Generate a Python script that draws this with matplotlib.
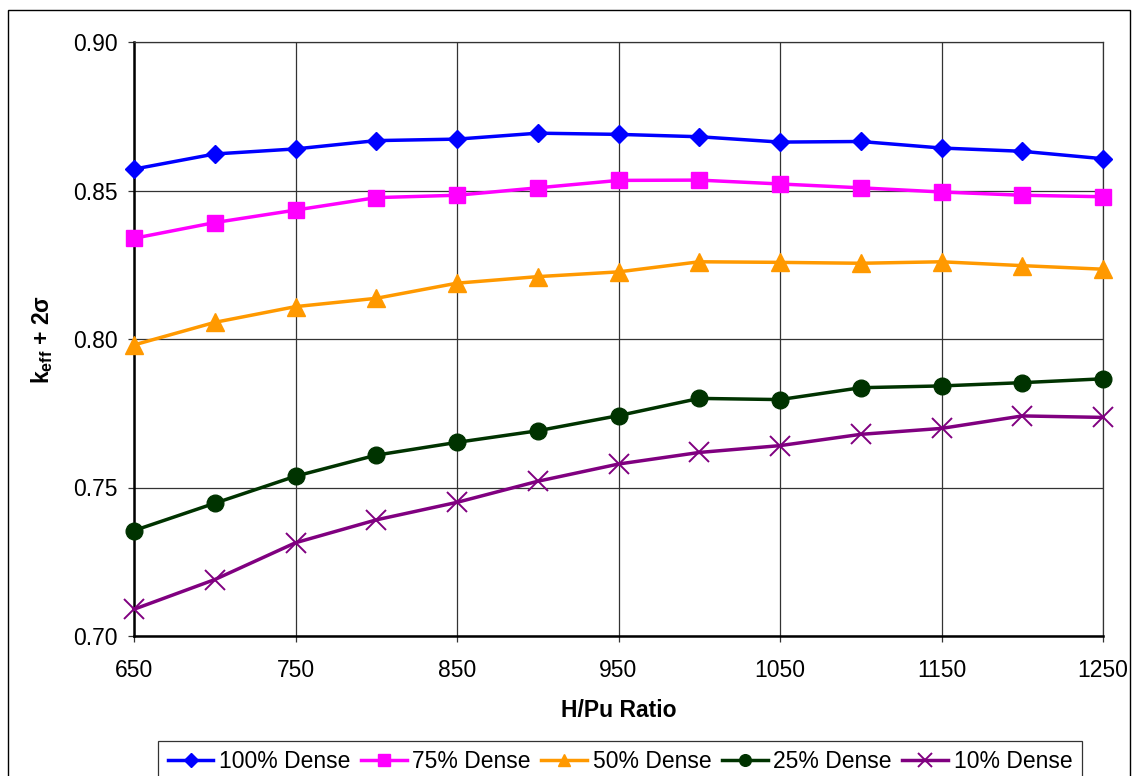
import matplotlib.pyplot as plt
import matplotlib.patches as patches

plt.rcParams['font.family'] = ['Liberation Sans', 'DejaVu Sans']
plt.rcParams['mathtext.default'] = 'regular'

# data
ratio = [650, 700, 750, 800, 850, 900, 950, 1000, 1050, 1100, 1150, 1200, 1250]
dense_100 = [0.8572, 0.8623, 0.8640, 0.8668, 0.8673, 0.8693, 0.8689, 0.8681, 0.8663, 0.8665, 0.8643, 0.8632, 0.8607]
dense_75 = [0.8339, 0.8392, 0.8434, 0.8476, 0.8484, 0.8509, 0.8534, 0.8535, 0.8522, 0.8509, 0.8495, 0.8484, 0.8479]
dense_50 = [0.7980, 0.8056, 0.8109, 0.8137, 0.8188, 0.8210, 0.8226, 0.8260, 0.8258, 0.8255, 0.8260, 0.8247, 0.8235]
dense_25 = [0.7355, 0.7447, 0.7538, 0.7609, 0.7652, 0.7691, 0.7742, 0.7800, 0.7796, 0.7836, 0.7842, 0.7853, 0.7866]
dense_10 = [0.7090, 0.7190, 0.7314, 0.7391, 0.7450, 0.7521, 0.7579, 0.7618, 0.7641, 0.7679, 0.7699, 0.7741, 0.7736]

series = [
    ('100% Dense', dense_100, '#0000FF', 'D', 9.5),
    ('75% Dense', dense_75, '#FF00FF', 's', 11.5),
    ('50% Dense', dense_50, '#FF9900', '^', 12.5),
    ('25% Dense', dense_25, '#003300', 'o', 12),
    ('10% Dense', dense_10, '#800080', 'x', 14),
]

fs = 16.5

fig = plt.figure(figsize=(11.33, 7.76), dpi=100)
ax = fig.add_axes([134/1133, 1 - 636/776, (1103 - 134)/1133, (636 - 42)/776])

for label, vals, c, m, ms in series:
    ax.plot(ratio, vals, color=c, lw=2.5, marker=m, ms=ms, mec=c, mfc=c,
            mew=1.4 if m == 'x' else 1, label=label, clip_on=False, zorder=3)

ax.set_xlim(650, 1250)
ax.set_ylim(0.70, 0.90)
ax.set_xticks(range(650, 1251, 100))
ax.set_yticks([0.70, 0.75, 0.80, 0.85, 0.90])
ax.set_yticklabels(['%.2f' % v for v in [0.70, 0.75, 0.80, 0.85, 0.90]])
ax.grid(True, color='#333333', lw=0.9)
ax.set_axisbelow(True)
ax.tick_params(labelsize=fs, length=4.5, width=0.9, color='#333333', direction='out')
ax.tick_params(axis='x', pad=12)
ax.tick_params(axis='y', pad=7)

for side in ['left', 'bottom']:
    ax.spines[side].set_linewidth(1.8)
    ax.spines[side].set_color('black')
for side in ['top', 'right']:
    ax.spines[side].set_linewidth(0.9)
    ax.spines[side].set_color('#333333')

ax.set_xlabel('H/Pu Ratio', fontsize=fs, fontweight='bold', labelpad=12)
ax.set_ylabel(r'k$_{eff}$ + 2σ', fontsize=fs, fontweight='bold', labelpad=13)

leg = fig.legend(loc='upper center', bbox_to_anchor=(620/1133, 1 - 741/776), ncol=5,
                 fontsize=fs, frameon=True, fancybox=False, edgecolor='black',
                 handlelength=2.0, handletextpad=0.25, columnspacing=0.45,
                 borderpad=0.4, markerscale=0.7, borderaxespad=0)
leg.get_frame().set_linewidth(0.9)

# outer chart border
fig.patches.append(patches.Rectangle((8/1133, -0.05), (1130 - 8)/1133, 1.05 - 10/776,
                                     transform=fig.transFigure, fill=False,
                                     edgecolor='black', lw=1.0))

fig.savefig('out.png', dpi=100)
